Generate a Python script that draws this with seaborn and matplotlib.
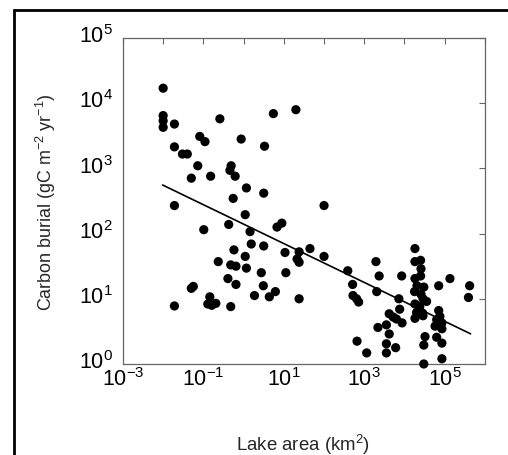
import numpy as np
import pandas as pd
import seaborn as sns
import matplotlib.pyplot as plt
import matplotlib.transforms as mtransforms
from matplotlib.patches import Rectangle
from matplotlib.ticker import NullLocator

# values, as log10 of lake area (km2) and carbon burial (gC m-2 yr-1)
log_area = [-2.00, -2.00, -2.00, -2.00, -1.72, -1.72, -1.52, -1.40, -1.09, -0.96,
            -0.59, -1.14, -1.30, -0.82, -0.31, -0.34, -0.21, -0.06, 0.07, -0.26,
            0.52, 0.50, 0.74, 1.30, 2.00, -1.72, 0.04, -0.37, -0.99, 0.83,
            0.95, 0.16, 0.19, 0.50, -0.24, 0.04, -0.63, -0.32, -0.19, 0.07,
            0.44, 1.05, -0.39, -0.19, 0.49, 0.79, 0.27, 0.64, 1.38, -1.30,
            -1.25, -1.72, -0.84, -0.89, -0.79, -0.69, -0.32, 1.03, 1.38, 1.33,
            1.38, 1.65, 2.00, 2.59, 2.71, 2.72, 2.81, 2.86, 3.29, 3.37,
            3.31, 2.82, 3.06, 3.34, 3.55, 3.62, 3.55, 3.55, 3.78, 3.93,
            3.86, 3.88, 3.62, 3.72, 3.80, 3.94, 4.26, 4.26, 4.40, 4.41,
            4.26, 4.40, 4.31, 4.48, 4.25, 4.41, 4.46, 4.55, 4.26, 4.38,
            4.30, 4.45, 4.26, 4.46, 4.51, 4.48, 4.48, 4.85, 5.13, 4.85,
            4.88, 4.80, 4.93, 4.76, 4.93, 4.80, 4.93, 4.93, 5.62, 5.59]
log_burial = [4.23, 3.81, 3.73, 3.63, 3.68, 3.33, 3.22, 3.22, 3.49, 3.41,
              3.76, 3.04, 2.85, 2.88, 3.04, 2.97, 2.88, 3.45, 2.70, 2.54,
              3.34, 2.62, 3.84, 3.90, 2.43, 2.43, 2.29, 2.14, 2.06, 2.10,
              2.16, 2.03, 1.84, 1.81, 1.75, 1.65, 1.57, 1.52, 1.50, 1.47,
              1.40, 1.40, 1.31, 1.22, 1.20, 1.11, 1.05, 1.03, 1.00, 1.16,
              1.19, 0.89, 1.03, 0.92, 0.90, 0.93, 0.88, 1.71, 1.72, 1.61,
              1.56, 1.77, 1.65, 1.43, 1.22, 1.05, 1.00, 0.95, 1.57, 1.35,
              1.11, 0.35, 0.17, 0.56, 0.60, 0.46, 0.31, 0.17, 0.25, 1.35,
              1.00, 0.84, 0.77, 0.72, 0.69, 0.63, 1.77, 1.57, 1.59, 1.46,
              1.31, 1.35, 1.20, 1.18, 1.11, 1.07, 1.00, 0.96, 0.92, 0.88,
              0.79, 0.78, 0.70, 0.74, 0.42, 0.29, 0.00, 1.20, 1.31, 0.82,
              0.73, 0.68, 0.63, 0.58, 0.54, 0.41, 0.32, 0.08, 1.20, 1.02]

fit_area = [0.0097, 4.4e5]
fit_burial = [556, 2.9]

x_ticks = [1e-3, 1e-2, 1e-1, 1e0, 1e1, 1e2, 1e3, 1e4, 1e5, 1e6]
x_labels = ['$10^{-3}$', '', '$10^{-1}$', '', '$10^{1}$', '', '$10^{3}$', '', '$10^{5}$', '']
y_ticks = [1e0, 1e1, 1e2, 1e3, 1e4, 1e5]
y_labels = ['$10^{0}$', '$10^{1}$', '$10^{2}$', '$10^{3}$', '$10^{4}$', '$10^{5}$']

df = pd.DataFrame({'area': 10 ** np.array(log_area), 'burial': 10 ** np.array(log_burial)})
fit = pd.DataFrame({'area': fit_area, 'burial': fit_burial})

sns.set_theme(style='white')
plt.rcParams['font.family'] = ['Liberation Sans', 'DejaVu Sans']
plt.rcParams['mathtext.fontset'] = 'custom'
plt.rcParams['mathtext.rm'] = 'Liberation Sans'
plt.rcParams['mathtext.it'] = 'Liberation Sans:italic'
plt.rcParams['mathtext.default'] = 'regular'

fig = plt.figure(figsize=(5.08, 4.56), dpi=100)
ax = fig.add_axes([0.242, 0.1996, 0.7126, 0.7149])

sns.scatterplot(data=df, x='area', y='burial', ax=ax, color='black', s=44,
                edgecolor='none', clip_on=False, zorder=3)
sns.lineplot(data=fit, x='area', y='burial', ax=ax, color='black', linewidth=1.2)

ax.set_xscale('log')
ax.set_yscale('log')
ax.set_xlim(1e-3, 1e6)
ax.set_ylim(1e0, 1e5)
ax.set_xticks(x_ticks)
ax.set_xticklabels(x_labels)
ax.set_yticks(y_ticks)
ax.set_yticklabels(y_labels)
ax.xaxis.set_minor_locator(NullLocator())
ax.yaxis.set_minor_locator(NullLocator())

ax.tick_params(which='major', direction='in', top=True, right=True, length=4.5,
               width=0.8, color='#666666', labelsize=15.5, labelcolor='black')
ax.tick_params(axis='x', pad=2.2)
ax.tick_params(axis='y', pad=7.5)
shift = mtransforms.ScaledTranslation(0, -3 / 72, fig.dpi_scale_trans)
for lbl in ax.get_yticklabels():
    lbl.set_verticalalignment('baseline')
    lbl.set_transform(lbl.get_transform() + shift)

for sp in ax.spines.values():
    sp.set_color('#666666')
    sp.set_linewidth(0.9)

ax.set_xlabel('Lake area (km$^{2}$)', fontsize=13.4)
ax.set_ylabel('Carbon burial (gC m$^{-2}$ yr$^{-1}$)', fontsize=12.9)
ax.xaxis.set_label_coords(0.497, -0.207)
ax.yaxis.set_label_coords(-0.18, 0.498)

# thick frame around the panel, running off the right and bottom edges
fig.patches.append(Rectangle((14 / 508, -0.1), 1.2, 1 - 11 / 456 + 0.1,
                             transform=fig.transFigure, fill=False,
                             edgecolor='black', linewidth=2))

fig.savefig('out.png', dpi=100)
